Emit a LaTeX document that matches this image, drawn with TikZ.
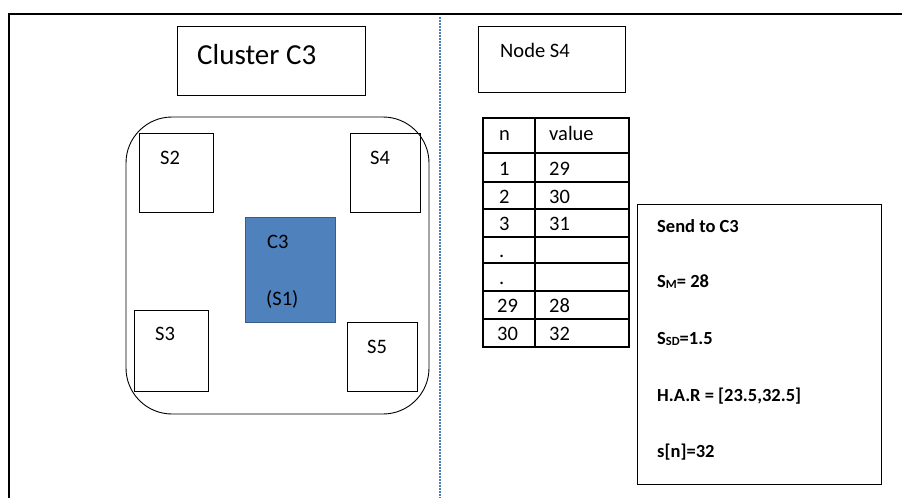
\documentclass[tikz,border=0pt]{standalone}
\usepackage{fontspec}
\setmainfont{Carlito}
\usetikzlibrary{fit}
\definecolor{officeblue}{HTML}{4F81BD}
\definecolor{officeblueline}{HTML}{385D8A}
\definecolor{dotblue}{HTML}{4A7EBB}
% small subscript sitting just below the baseline
\newcommand{\lowsub}[1]{\raisebox{-1pt}{\fontsize{12.5}{14}\selectfont #1}}
\tikzset{
  box/.style={draw=black, line width=0.9pt, inner sep=0pt},
  lbl/.style={anchor=base west, inner sep=0pt, font=\fontsize{20.5}{24}\selectfont},
  big/.style={anchor=base west, inner sep=0pt, font=\fontsize{29}{34}\selectfont},
  bold/.style={anchor=base west, inner sep=0pt, font=\fontsize{18.5}{22}\selectfont\bfseries},
  grid/.style={line width=1.8pt}
}
\begin{document}
\begin{tikzpicture}[x=1pt, y=-1pt]
\useasboundingbox (0,0) rectangle (902,498);

% outer frame (top and left edges) and the dotted divider
\draw[line width=2pt] (902,14) -- (9,14) -- (9,498);
\draw[dotblue, line width=1.5pt, dash pattern=on 1.5pt off 1.5pt] (440,17) -- (440,498);

% ---- left half: cluster C3 ----
\node[box, fit={(177,26) (365,95)}] (title) {};
\node[big] (titletxt) at (197,64) {Cluster C3};

\node[box, rounded corners=46pt, fit={(126,117) (429,414)}] (cluster) {};

\node[box, fit={(139,133) (213,212)}] (s2) {};
\node[lbl] at (160,164) {S2};
\node[box, fit={(350,133) (420,212)}] (s4) {};
\node[lbl] at (370,164) {S4};
\node[box, draw=officeblueline, fill=officeblue, fit={(245,217) (335,322)}] (c3) {};
\node[lbl] at (267,248) {C3};
\node[lbl] at (266,305) {(S1)};
\node[box, fit={(134,310) (208,391)}] (s3) {};
\node[lbl] at (155,340) {S3};
\node[box, fit={(347,322) (417,391)}] (s5) {};
\node[lbl] at (367,353) {S5};

% ---- right half: node S4 ----
\node[box, fit={(478,26) (625,92)}] (nodes4) {};
\node[lbl] at (500,57) {Node S4};

% value table
\draw[grid] (483,118) rectangle (629,347);
\draw[grid] (535,118) -- (535,347);
\foreach \yy in {153,182,209,237,263,291,319}
  \draw[grid] (483,\yy) -- (629,\yy);
\node[lbl] at (499,140) {n};
\node[lbl] at (549,140) {value};
\node[lbl] at (499,175) {1};  \node[lbl] at (549,175) {29};
\node[lbl] at (499,203) {2};  \node[lbl] at (549,203) {30};
\node[lbl] at (499,230) {3};  \node[lbl] at (549,230) {31};
\node[lbl] at (499,257) {.};
\node[lbl] at (499,284) {.};
\node[lbl] at (497,312) {29}; \node[lbl] at (549,312) {28};
\node[lbl] at (497,340) {30}; \node[lbl] at (549,340) {32};

% summary sent to the cluster head
\node[box, fit={(637,204) (881,484)}] (send) {};
\node[bold] at (657,232) {Send to C3};
\node[bold] at (657,287) {S\lowsub{M}= 28};
\node[bold] at (657,344) {S\lowsub{SD}=1.5};
\node[bold] at (657,401) {H.A.R = [23.5,32.5]};
\node[bold] at (657,457) {s[n]=32};
\end{tikzpicture}
\end{document}
